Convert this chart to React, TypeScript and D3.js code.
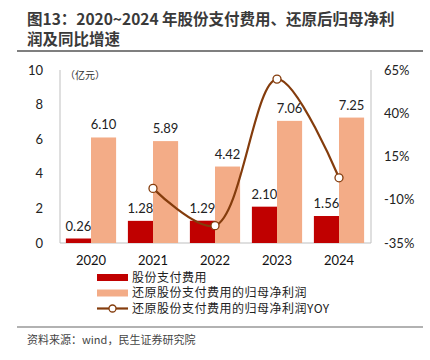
import * as d3 from 'd3'

const YEARS = ['2020', '2021', '2022', '2023', '2024']
const SHARE_PAY = [0.26, 1.28, 1.29, 2.1, 1.56]
const ADJ_PROFIT = [6.1, 5.89, 4.42, 7.06, 7.25]
const ADJ_YOY: (number | null)[] = [null, -3.44, -24.96, 59.73, 2.69]
const LEFT_TICKS = [0, 2, 4, 6, 8, 10]
const RIGHT_TICKS = [-35, -10, 15, 40, 65]
const LEGEND = ['股份支付费用', '还原股份支付费用的归母净利润', '还原股份支付费用的归母净利润YOY']

const RED = '#C00000'
const SALMON = '#F3AC87'
const BROWN = '#843C0C'
const AXIS = '#BFBFBF'
const NUM_FONT = 'Lato, "Liberation Sans", sans-serif'
const CJK_FONT = '"Noto Sans CJK SC", sans-serif'

export default function App() {
  const width = 430
  const height = 360
  const left = 60
  const right = 370
  const top = 70
  const bottom = 243

  const x = d3.scaleBand<string>().domain(YEARS).range([left, right])
  const inner = d3
    .scaleBand<string>()
    .domain(['pay', 'profit'])
    .range([x.bandwidth() * 0.095, x.bandwidth() * 0.905])
  const yL = d3.scaleLinear().domain([0, 10]).range([bottom, top])
  const yR = d3.scaleLinear().domain([-35, 65]).range([bottom, top])

  const linePts = YEARS.map((yr, i) => ({ yr, v: ADJ_YOY[i] })).filter((d) => d.v !== null) as {
    yr: string
    v: number
  }[]
  const cx = (yr: string) => (x(yr) as number) + x.bandwidth() / 2
  const line = d3
    .line<{ yr: string; v: number }>()
    .x((d) => cx(d.yr))
    .y((d) => yR(d.v))
    .curve(d3.curveCatmullRom.alpha(0.5))

  const series = [
    { key: 'pay', vals: SHARE_PAY, color: RED },
    { key: 'profit', vals: ADJ_PROFIT, color: SALMON }
  ]

  const legendY = [277.5, 293, 308.5]

  return (
    <svg
      width={width}
      height={height}
      style={{ position: 'absolute', left: 0, top: 0, background: '#fff' }}
    >
      {/* Title */}
      <text x={27} y={25} fontFamily={CJK_FONT} fontWeight="bold" fontSize={15.5} fill="#3a3a3a">
        图13：2020~2024 年股份支付费用、还原后归母净利
      </text>
      <text x={27} y={45} fontFamily={CJK_FONT} fontWeight="bold" fontSize={15.5} fill="#3a3a3a">
        润及同比增速
      </text>
      <line x1={17} x2={423} y1={51} y2={51} stroke="#555" strokeWidth={1.5} />

      {/* Axes */}
      <line x1={left} x2={left} y1={top} y2={bottom} stroke={AXIS} />
      <line x1={right + 1} x2={right + 1} y1={top} y2={bottom} stroke={AXIS} />
      <line x1={left} x2={right + 1} y1={bottom} y2={bottom} stroke={AXIS} />

      {LEFT_TICKS.map((t) => (
        <text
          key={'l' + t}
          x={43}
          y={yL(t)}
          dy="0.35em"
          textAnchor="end"
          fontFamily={NUM_FONT}
          fontSize={13}
          fill="#222"
        >
          {t}
        </text>
      ))}
      {RIGHT_TICKS.map((t) => (
        <text
          key={'r' + t}
          x={384}
          y={yR(t)}
          dy="0.35em"
          fontFamily={NUM_FONT}
          fontSize={13}
          fill="#222"
        >
          {t}%
        </text>
      ))}
      {YEARS.map((yr) => (
        <text
          key={'x' + yr}
          x={cx(yr)}
          y={265}
          textAnchor="middle"
          fontFamily={NUM_FONT}
          fontSize={13}
          fill="#111"
        >
          {yr}
        </text>
      ))}

      <text x={65} y={79} fontFamily={CJK_FONT} fontSize={10} fill="#333">
        （亿元）
      </text>

      {/* Bars */}
      {series.map((s) =>
        s.vals.map((v, i) => {
          const bx = (x(YEARS[i]) as number) + (inner(s.key) as number)
          return (
            <g key={s.key + i}>
              <rect
                x={bx}
                y={yL(v)}
                width={inner.bandwidth()}
                height={bottom - yL(v)}
                fill={s.color}
              />
              <text
                x={bx + inner.bandwidth() / 2}
                y={yL(v) - 8}
                textAnchor="middle"
                fontFamily={NUM_FONT}
                fontSize={13}
                fill="#222"
              >
                {v.toFixed(2)}
              </text>
            </g>
          )
        })
      )}

      {/* YOY line */}
      <path d={line(linePts) as string} fill="none" stroke={BROWN} strokeWidth={2.2} />
      {linePts.map((d) => (
        <circle
          key={'p' + d.yr}
          cx={cx(d.yr)}
          cy={yR(d.v)}
          r={4}
          fill="#fff"
          stroke={BROWN}
          strokeWidth={1.3}
        />
      ))}

      {/* Legend */}
      <rect x={97} y={legendY[0] - 3.5} width={31} height={7} fill={RED} />
      <rect x={97} y={legendY[1] - 3.5} width={31} height={7} fill={SALMON} />
      <line x1={97} x2={128} y1={legendY[2]} y2={legendY[2]} stroke={BROWN} strokeWidth={2.2} />
      <circle cx={112.5} cy={legendY[2]} r={3.5} fill="#fff" stroke={BROWN} strokeWidth={1.3} />
      {LEGEND.map((t, i) => (
        <text
          key={t}
          x={132}
          y={legendY[i]}
          dy="0.35em"
          fontFamily={CJK_FONT}
          fontSize={12}
          letterSpacing={0.5}
          fill="#222"
        >
          {t}
        </text>
      ))}

      {/* Source */}
      <line x1={17} x2={423} y1={327} y2={327} stroke="#666" strokeWidth={1.2} />
      <text x={27} y={344} fontFamily={CJK_FONT} fontSize={11} fill="#444">
        资料来源：wind，民生证券研究院
      </text>
    </svg>
  )
}
